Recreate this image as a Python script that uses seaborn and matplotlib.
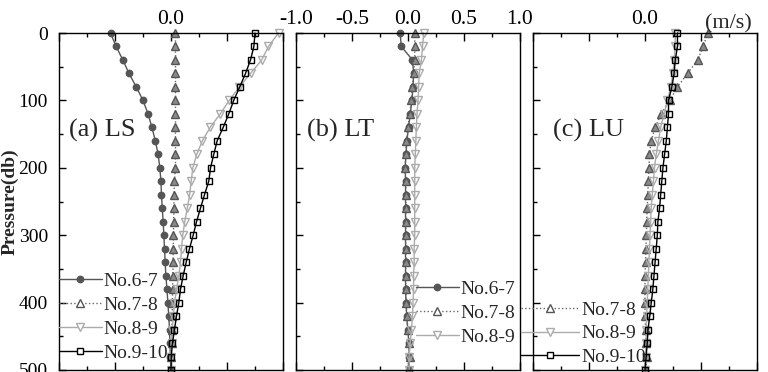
import matplotlib
matplotlib.use("Agg")
import matplotlib.pyplot as plt
import seaborn as sns
from matplotlib.ticker import MultipleLocator, FixedLocator, FixedFormatter

# ---------------- data ----------------
pressure = list(range(0, 501, 20))

# (a) LS
a_no67 = [-0.54, -0.49, -0.43, -0.375, -0.31, -0.25, -0.205, -0.17, -0.14, -0.115, -0.10,
          -0.09, -0.085, -0.078, -0.07, -0.064, -0.058, -0.052, -0.046, -0.036, -0.028,
          -0.02, -0.013, -0.01, -0.005, 0.0]
a_no78 = [0.04, 0.04, 0.04, 0.04, 0.04, 0.04, 0.04, 0.04, 0.04, 0.04, 0.04,
          0.03, 0.028, 0.026, 0.024, 0.022, 0.02, 0.018, 0.016, 0.014, 0.012,
          0.01, 0.008, 0.005, 0.003, 0.0]
a_no89 = [0.96, 0.87, 0.81, 0.71, 0.61, 0.52, 0.44, 0.35, 0.28, 0.23, 0.195,
          0.18, 0.167, 0.145, 0.123, 0.105, 0.094, 0.085, 0.07, 0.05, 0.031,
          0.02, 0.011, 0.005, 0.0, 0.0]
a_no910 = [0.75, 0.74, 0.71, 0.665, 0.614, 0.56, 0.516, 0.466, 0.412, 0.382, 0.353,
           0.337, 0.299, 0.263, 0.228, 0.198, 0.165, 0.136, 0.109, 0.085, 0.07,
           0.049, 0.031, 0.013, 0.002, 0.0]

# (b) LT
b_no67 = [-0.07, -0.06, 0.04, 0.05, 0.045, 0.035, 0.02, 0.005, -0.01, -0.018, -0.025,
          -0.022, -0.022, -0.022, -0.022, -0.022, -0.022, -0.022, -0.022, -0.022, -0.018,
          -0.012, -0.002, 0.008, 0.012, 0.01]
b_no78 = [0.06, 0.06, 0.06, 0.05, 0.04, 0.03, 0.015, 0.0, -0.015, -0.02, -0.028,
          -0.02, -0.02, -0.02, -0.02, -0.02, -0.02, -0.02, -0.02, -0.02, -0.015,
          -0.01, 0.0, 0.01, 0.015, 0.01]
b_no89 = [0.14, 0.13, 0.12, 0.10, 0.095, 0.09, 0.08, 0.075, 0.07, 0.065, 0.06,
          0.06, 0.06, 0.06, 0.06, 0.06, 0.055, 0.055, 0.05, 0.05, 0.045,
          0.04, 0.03, 0.02, 0.01, 0.01]

# (c) LU
c_no78 = [0.56, 0.52, 0.47, 0.38, 0.29, 0.22, 0.145, 0.09, 0.056, 0.04, 0.035,
          0.03, 0.025, 0.02, 0.015, 0.012, 0.008, 0.005, 0.0, 0.0, 0.0,
          0.0, 0.005, 0.01, 0.015, 0.01]
c_no89 = [0.27, 0.27, 0.26, 0.25, 0.23, 0.20, 0.17, 0.14, 0.12, 0.10, 0.085,
          0.075, 0.065, 0.055, 0.05, 0.045, 0.04, 0.035, 0.03, 0.025, 0.02,
          0.015, 0.01, 0.01, 0.005, 0.0]
c_no910 = [0.29, 0.29, 0.27, 0.26, 0.24, 0.21, 0.21, 0.20, 0.19, 0.175, 0.16,
           0.15, 0.14, 0.13, 0.115, 0.11, 0.10, 0.09, 0.08, 0.07, 0.056,
           0.042, 0.027, 0.02, 0.01, 0.0]

panel_titles = ["(a) LS", "(b) LT", "(c) LU"]
xtick_values = [-1.0, -0.5, 0.0, 0.5, 1.0]
xtick_labels_all = ["-1.0", "-0.5", "0.0", "0.5", "1.0"]
xtick_labels_mid = ["", "", "0.0", "", ""]

panels = [
    {"No.6-7": a_no67, "No.7-8": a_no78, "No.8-9": a_no89, "No.9-10": a_no910},
    {"No.6-7": b_no67, "No.7-8": b_no78, "No.8-9": b_no89},
    {"No.7-8": c_no78, "No.8-9": c_no89, "No.9-10": c_no910},
]

styles = {
    "No.6-7": dict(color="#555555", marker="o", linestyle="-", mfc="#555555", mec="#555555", ms=4.6),
    "No.7-8": dict(color="#666666", marker="^", linestyle=":", mfc="#8a8a8a", mec="#555555", ms=5.2),
    "No.8-9": dict(color="#ababab", marker="v", linestyle="-", mfc="none", mec="#ababab", ms=5.2),
    "No.9-10": dict(color="black", marker="s", linestyle="-", mfc="none", mec="black", ms=4.4),
}

# ---------------- style ----------------
sns.set_theme(style="ticks")
plt.rcParams["font.family"] = ["Liberation Serif", "DejaVu Serif"]
plt.rcParams["axes.edgecolor"] = "black"
plt.rcParams["axes.linewidth"] = 1.0
plt.rcParams["xtick.color"] = "black"
plt.rcParams["ytick.color"] = "black"

W, H = 768, 372
fig = plt.figure(figsize=(W / 100, H / 100), dpi=100)
ax_lefts = [59, 296, 533]
ax_w = 224
ax_top, ax_bot = 33, 370
axes = [fig.add_axes([l / W, (H - ax_bot) / H, ax_w / W, (ax_bot - ax_top) / H]) for l in ax_lefts]

legend_pos = [(0.0, 0.289), (0.535, 0.266), (-0.055, 0.205)]
legend_hlen = [2.2, 2.2, 3.0]
title_x = [0.045, 0.05, 0.09]

for i, (ax, series) in enumerate(zip(axes, panels)):
    for name, vals in series.items():
        st = styles[name]
        sns.lineplot(x=vals, y=pressure, orient="y", ax=ax, label=name,
                     color=st["color"], linestyle=st["linestyle"], linewidth=1.0,
                     marker=st["marker"], markersize=st["ms"],
                     markerfacecolor=st["mfc"], mec=st["mec"], mew=1.0,
                     estimator=None, clip_on=False)
    ax.set_xlim(-1.0, 1.0)
    ax.set_ylim(500, 0)
    ax.xaxis.set_major_locator(FixedLocator(xtick_values))
    ax.xaxis.set_major_formatter(FixedFormatter(xtick_labels_all if i == 1 else xtick_labels_mid))
    ax.xaxis.set_minor_locator(MultipleLocator(0.25))
    ax.yaxis.set_major_locator(MultipleLocator(100))
    ax.yaxis.set_minor_locator(MultipleLocator(50))
    ax.tick_params(axis="x", which="both", direction="in", top=True, bottom=True,
                   labeltop=True, labelbottom=False, labelsize=15.5, pad=3)
    ax.tick_params(axis="x", which="major", length=6, width=1)
    ax.tick_params(axis="x", which="minor", length=3, width=1)
    ax.tick_params(axis="y", which="both", direction="in", left=True, right=False,
                   labelleft=(i == 0), labelsize=14, pad=8)
    ax.tick_params(axis="y", which="major", length=5, width=1)
    ax.tick_params(axis="y", which="minor", length=3, width=1)
    ax.set_xlabel("")
    if i == 0:
        ax.set_ylabel("Pressure(db)", fontsize=14, fontweight="bold")
        ax.yaxis.set_label_coords(-0.18, 0.5)
    else:
        ax.set_ylabel("")
    ax.text(title_x[i], 0.71, panel_titles[i], transform=ax.transAxes,
            fontsize=19, va="center", ha="left")
    leg = ax.legend(loc="upper left", bbox_to_anchor=legend_pos[i], frameon=False,
                    fontsize=14, handlelength=legend_hlen[i], handletextpad=0.1,
                    labelspacing=0.32, borderpad=0, borderaxespad=0)
    for h in leg.legend_handles:
        h.set_markerfacecolor("#555555" if h.get_marker() == "o" else "white")
    for sp in ax.spines.values():
        sp.set_visible(True)
        sp.set_color("black")

axes[2].text(0.87, 1.0, "(m/s)", transform=axes[2].transAxes, fontsize=16,
             ha="center", va="bottom")

fig.savefig("out.png", dpi=100)
